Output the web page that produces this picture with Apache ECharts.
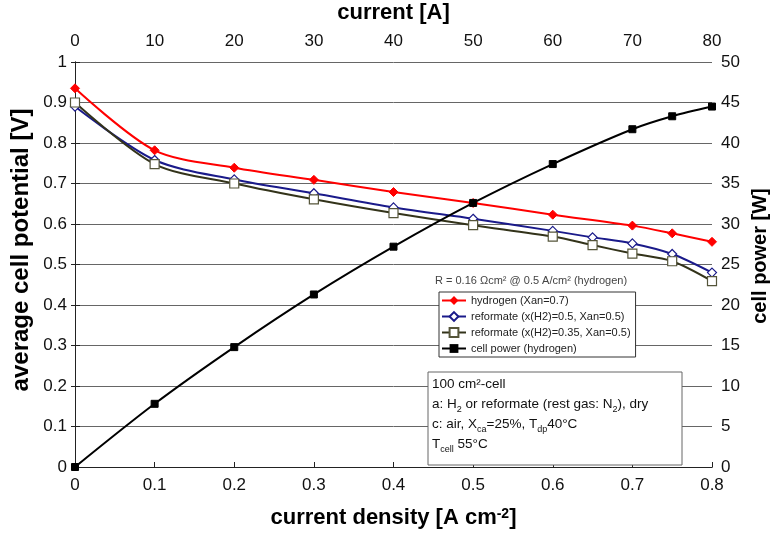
<!DOCTYPE html>
<html>
<head>
<meta charset="utf-8">
<script src="https://cdn.jsdelivr.net/npm/echarts@6/dist/echarts.min.js"></script>
<style>
  html, body { margin: 0; padding: 0; background: #fff; }
  #main { width: 771px; height: 533px; }
</style>
</head>
<body>
<div id="main"></div>
<script>
var FONT = "Liberation Sans, Arial, Helvetica, sans-serif";

// current density [A/cm2] for each series
var h2Density = [0, 0.1, 0.2, 0.3, 0.4, 0.5, 0.6, 0.7, 0.75, 0.8];
var h2Voltage = [0.935, 0.782, 0.739, 0.709, 0.679, 0.652, 0.623, 0.596, 0.577, 0.556];

var refDensity = [0, 0.1, 0.2, 0.3, 0.4, 0.5, 0.6, 0.65, 0.7, 0.75, 0.8];
var ref50Voltage = [0.89, 0.758, 0.71, 0.676, 0.641, 0.613, 0.583, 0.567, 0.552, 0.526, 0.48];
var ref35Voltage = [0.9, 0.748, 0.7, 0.661, 0.627, 0.597, 0.569, 0.548, 0.527, 0.508, 0.459];

var powerDensity = [0, 0.1, 0.2, 0.3, 0.4, 0.5, 0.6, 0.7, 0.75, 0.8];
var powerWatts = [0, 7.8, 14.8, 21.3, 27.2, 32.6, 37.4, 41.7, 43.3, 44.5];

var seriesNames = [
  "hydrogen (Xan=0.7)",
  "reformate (x(H2)=0.5, Xan=0.5)",
  "reformate (x(H2)=0.35, Xan=0.5)",
  "cell power (hydrogen)"
];

function pairs(xs, ys) {
  return xs.map(function (x, i) { return [x, ys[i]]; });
}

var myChart = echarts.init(document.getElementById("main"));

var tickLabel = { fontFamily: FONT, fontSize: 17, color: "#111" };
var axisName = { fontFamily: FONT, fontSize: 22, fontWeight: "bold", color: "#000" };
var blackLine = { lineStyle: { color: "#222", width: 1 } };

var option = {
  animation: false,
  backgroundColor: "#fff",
  textStyle: { fontFamily: FONT },
  grid: { left: 75, right: 59, top: 62, bottom: 66, outerBoundsMode: "none" },
  legend: {
    left: 439,
    top: 292,
    orient: "vertical",
    backgroundColor: "#fff",
    borderColor: "#333",
    borderWidth: 1,
    borderRadius: 0,
    padding: [3, 5, 3, 2],
    itemGap: 5,
    itemWidth: 24,
    itemHeight: 11,
    textStyle: { fontFamily: FONT, fontSize: 11, color: "#222" },
    data: seriesNames
  },
  xAxis: [
    {
      type: "value",
      position: "bottom",
      min: 0,
      max: 0.8,
      interval: 0.1,
      name: "current density [A cm{sup|-2}]",
      nameLocation: "middle",
      nameGap: 40,
      nameTextStyle: Object.assign({}, axisName, {
        rich: { sup: { fontFamily: FONT, fontSize: 14, fontWeight: "bold", verticalAlign: "top", lineHeight: 22 } }
      }),
      axisLine: blackLine,
      axisTick: { show: true, inside: true, length: 5, lineStyle: { color: "#222" } },
      axisLabel: Object.assign({ margin: 10 }, tickLabel),
      splitLine: { show: false }
    },
    {
      type: "value",
      position: "top",
      min: 0,
      max: 80,
      interval: 10,
      name: "current [A]",
      nameLocation: "middle",
      nameGap: 38,
      nameTextStyle: axisName,
      axisLine: blackLine,
      axisTick: { show: true, length: 4, lineStyle: { color: "#222" } },
      axisLabel: Object.assign({ margin: 12 }, tickLabel),
      splitLine: { show: false }
    }
  ],
  yAxis: [
    {
      type: "value",
      position: "left",
      min: 0,
      max: 1,
      interval: 0.1,
      axisLine: { show: true, lineStyle: { color: "#222", width: 1 } },
      axisTick: { show: true, length: 4, lineStyle: { color: "#222" } },
      axisLabel: Object.assign({ margin: 8 }, tickLabel),
      splitLine: { show: true, lineStyle: { color: "#666", width: 1 } }
    },
    {
      type: "value",
      position: "right",
      min: 0,
      max: 50,
      interval: 5,
      axisLine: { show: true, lineStyle: { color: "#222", width: 1 } },
      axisTick: { show: true, length: 5, lineStyle: { color: "#222" } },
      axisLabel: Object.assign({ margin: 9 }, tickLabel),
      splitLine: { show: false }
    }
  ],
  series: [
    {
      name: seriesNames[0],
      type: "line",
      smooth: 0.3,
      symbol: "diamond",
      symbolSize: 9,
      data: pairs(h2Density, h2Voltage),
      lineStyle: { color: "#ff0000", width: 2 },
      itemStyle: { color: "#ff0000", borderColor: "#ff0000" }
    },
    {
      name: seriesNames[1],
      type: "line",
      smooth: 0.3,
      symbol: "diamond",
      symbolSize: 9,
      showAllSymbol: true,
      data: pairs(refDensity, ref50Voltage),
      lineStyle: { color: "#1a1a8a", width: 2 },
      itemStyle: { color: "#fff", borderColor: "#1a1a8a", borderWidth: 1.2 }
    },
    {
      name: seriesNames[2],
      type: "line",
      smooth: 0.3,
      symbol: "rect",
      symbolSize: 9,
      showAllSymbol: true,
      data: pairs(refDensity, ref35Voltage),
      lineStyle: { color: "#33331a", width: 2 },
      itemStyle: { color: "#fff", borderColor: "#55553a", borderWidth: 1.2 }
    },
    {
      name: seriesNames[3],
      type: "line",
      smooth: 0.3,
      yAxisIndex: 1,
      symbol: "rect",
      symbolSize: 7,
      data: pairs(powerDensity, powerWatts),
      lineStyle: { color: "#000", width: 2 },
      itemStyle: { color: "#000", borderColor: "#000" }
    }
  ],
  graphic: [
    // vertical axis titles (placed like the original, not centred on the plot)
    {
      type: "text",
      x: 21,
      y: 250,
      rotation: Math.PI / 2,
      style: {
        text: "average cell potential [V]",
        fontFamily: FONT,
        fontSize: 24,
        fontWeight: "bold",
        fill: "#000",
        align: "center",
        verticalAlign: "middle"
      }
    },
    {
      type: "text",
      x: 760,
      y: 256,
      rotation: Math.PI / 2,
      style: {
        text: "cell power [W]",
        fontFamily: FONT,
        fontSize: 20,
        fontWeight: "bold",
        fill: "#000",
        align: "center",
        verticalAlign: "middle"
      }
    },
    {
      type: "text",
      left: 435,
      top: 275,
      style: {
        text: "R = 0.16 \u03A9cm\u00B2 @ 0.5 A/cm\u00B2 (hydrogen)",
        fontFamily: FONT,
        fontSize: 11,
        fill: "#444"
      }
    },
    {
      type: "rect",
      shape: { x: 428, y: 372, width: 254, height: 93 },
      style: { fill: "#fff", stroke: "#666", lineWidth: 1 },
      z: 10
    },
    {
      type: "text",
      left: 432,
      top: 374,
      z: 11,
      style: {
        text: "100 cm\u00B2-cell\n" +
              "a: H{sub|2} or reformate (rest gas: N{sub|2}), dry\n" +
              "c: air, X{sub|ca}=25%, T{sub|dp}40\u00B0C\n" +
              "T{sub|cell} 55\u00B0C",
        fontFamily: FONT,
        fontSize: 13.5,
        lineHeight: 20,
        fill: "#111",
        rich: {
          sub: { fontFamily: FONT, fontSize: 9, fill: "#111", verticalAlign: "bottom", lineHeight: 16 }
        }
      }
    }
  ]
};

option && myChart.setOption(option);
</script>
</body>
</html>
